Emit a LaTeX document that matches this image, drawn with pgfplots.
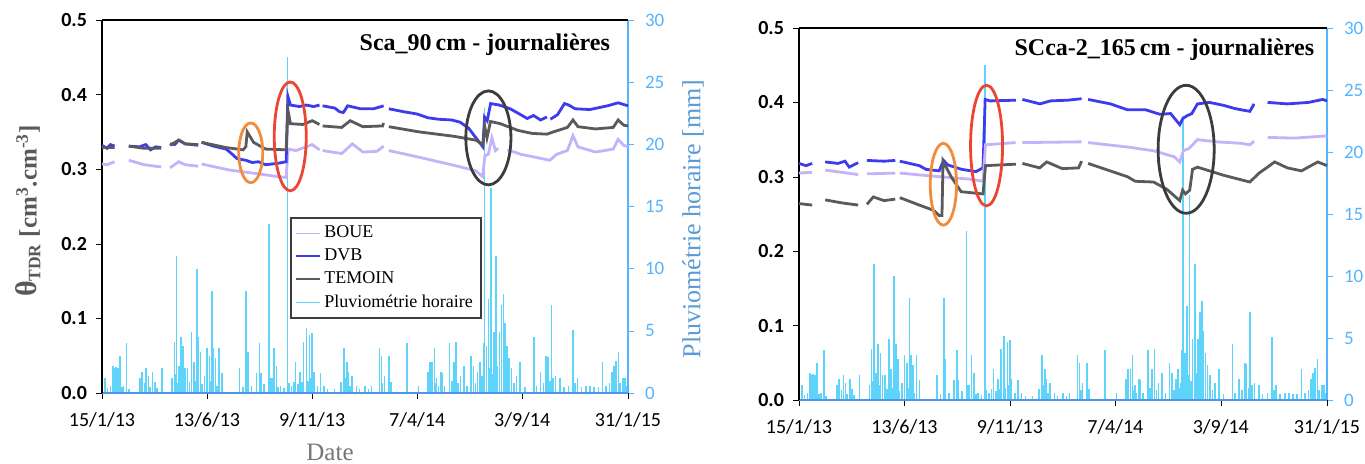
\documentclass[border=0pt]{standalone}
\usepackage{fontspec}
\setmainfont{Carlito}
\newfontfamily\tnr{Liberation Serif}
\usepackage{pgfplots}
\usepackage{pgfplotstable}
\pgfplotsset{compat=1.18}
\definecolor{boue}{RGB}{196,178,250}
\definecolor{dvb}{RGB}{60,60,238}
\definecolor{temoin}{RGB}{90,90,90}
\definecolor{rain}{RGB}{95,212,250}
\definecolor{raxis}{RGB}{85,180,255}
\definecolor{baxis}{RGB}{80,150,230}
\definecolor{pluvlab}{RGB}{91,155,213}
\definecolor{thlab}{RGB}{89,89,89}
\definecolor{datelab}{RGB}{118,118,118}
\definecolor{ellO}{RGB}{240,140,60}
\definecolor{ellR}{RGB}{235,70,50}
\definecolor{ellK}{RGB}{60,60,60}

\pgfplotstableread{
d r
4.3 1.2
8 0.4
12 0.6
15.4 2.2
17.8 2.0
19.7 2.1
21 0.8
22.7 2.0
25.8 3.0
28 0.5
30.7 0.6
35.0 4.0
38 0.3
53.5 1.2
55 0.5
56.5 1.7
60 0.8
62.7 2.0
65.8 1.4
68 0.5
71.9 1.7
75.0 0.9
78 0.4
85.4 2.0
99.5 1.2
102.6 4.1
104 1.5
105.7 11.0
107 0.8
108.8 2.2
111.8 4.5
113 1.2
114.9 3.8
118.0 2.0
121.1 2.0
124 0.9
127.2 4.9
130.3 2.5
132 1.0
134.6 10.0
137.0 4.5
139.5 3.3
142 0.7
145.6 1.4
149.3 3.6
152.4 3.0
154 1.0
156.1 8.2
157.9 3.6
161.0 2.8
163 0.6
165.9 3.6
170.2 1.6
194.8 2.0
200 0.5
204.6 8.2
207.1 3.3
212 0.6
219.4 1.6
223.1 4.0
225.5 1.6
230 0.7
236.6 13.6
239.0 1.2
240.9 1.2
243.9 3.6
247.6 2.2
250 0.5
253.2 0.6
258 0.4
263.0 27.0
265 0.8
268.5 0.6
272 0.9
274.7 2.5
278 0.7
280.8 1.7
284 0.9
285.7 4.1
290.0 5.2
292 1.0
294.3 4.7
296 1.2
298.0 4.8
300.5 1.7
305.4 0.6
309.7 1.6
314.6 0.6
320 0.3
330 0.3
339.2 0.9
343.5 3.6
345 1.2
347.2 2.5
349.7 1.7
352 0.6
354.6 1.4
360.7 0.6
365 0.3
373.0 0.6
378 0.3
382.2 0.6
393.3 3.6
396.4 3.0
398 0.8
400.7 1.4
406.8 3.0
409.9 0.9
432.6 4.0
448.6 0.6
462.1 1.7
465.2 2.5
468.3 2.5
471.3 3.6
473 0.8
474.4 1.2
477 0.6
480.5 1.7
482.4 1.6
486 0.6
492.9 4.0
496 1.0
499.0 2.5
502.0 4.1
505 0.8
508.2 1.4
513.1 2.2
518 0.6
523.6 3.0
526.6 2.2
530 0.8
532.8 1.7
535.8 2.5
537 1.0
538.9 1.4
540.8 4.0
542.6 22.9
545.1 3.8
548.1 7.6
550 2.0
551.8 16.5
554 1.5
556.1 4.9
559.2 11.0
561 2.2
563.5 4.9
566.6 7.1
569.6 8.0
571.5 5.6
574.6 3.8
577.0 2.8
580.7 2.0
584 0.8
588.1 1.4
593.0 2.5
600 0.5
612.7 4.5
616 0.6
621.9 1.7
626 0.8
629.9 3.0
632.3 2.9
635 1.0
637.3 7.1
640 1.2
643.4 1.4
649.5 1.2
655 0.5
661.8 0.6
668.0 5.1
671 0.8
674.1 1.2
680 0.5
686.4 0.6
692.5 0.6
698 0.5
704 0.5
709.7 2.5
715 0.6
720 0.8
723.3 1.7
726.3 2.2
729.4 2.6
732.5 3.3
735 0.8
738.6 1.2
741.7 1.2
744 0.6
}\rain

\pgfplotsset{
  rainax/.style={
    scale only axis, xmin=0, xmax=746, ymin=0, ymax=30,
    axis x line=none, axis y line*=right,
    y axis line style={raxis, line width=0.8pt},
    ytick={0,5,10,15,20,25,30},
    yticklabel style={text=raxis, font=\fontsize{9.5}{11}\selectfont, xshift=2pt},
    ytick style={raxis}, tick align=outside, major tick length=3pt,
    /pgf/number format/assume math mode=true,
  },
  thax/.style={
    scale only axis, xmin=0, xmax=746, ymin=0, ymax=0.5,
    axis x line*=bottom, axis y line*=left,
    x axis line style={baxis, line width=0.8pt, -},
    y axis line style={black, line width=0.8pt, -},
    xtick={0,149,298,447,596,746},
    xticklabels={15/1/13,13/6/13,9/11/13,7/4/14,3/9/14,31/1/15},
    xticklabel style={font=\fontsize{10}{12}\selectfont, yshift=-3.5pt},
    ytick={0,0.1,0.2,0.3,0.4,0.5},
    yticklabel style={font=\bfseries\fontsize{10}{12}\selectfont, xshift=-1pt,
      /pgf/number format/.cd, fixed, fixed zerofill, precision=1, assume math mode=true},
    tick style={black}, tick align=outside, major tick length=3pt,
    unbounded coords=jump,
    clip=false,
  },
  rainplot/.style={ycomb, draw=rain, line width=0.8pt, no marks},
}

\begin{document}
\begin{tikzpicture}
\path[use as bounding box] (0,0) rectangle (682.5pt,231.5pt);

% ===== LEFT PANEL =====
\begin{axis}[rainax, at={(51pt,35pt)}, anchor=south west, width=263pt, height=186.5pt]
\addplot[rainplot] table[x=d,y=r] {\rain};
\end{axis}

\begin{axis}[thax, at={(51pt,35pt)}, anchor=south west, width=263pt, height=186.5pt,
  legend style={at={(rel axis cs:0.357,0.472)}, anchor=north west,
    draw=ellK, line width=1pt, fill=white, inner sep=2pt, row sep=0pt,
    font=\tnr\fontsize{9}{10}\selectfont},
  legend cell align=left,
  legend image code/.code={\draw[line width=0.8pt,#1] (0pt,0pt) -- (12pt,0pt);},
]
\addplot[color=boue, line width=1.4pt, no marks] coordinates {
(0,0.307)(7,0.306)(17.8,0.310)(20,nan)
(38,0.312)(60,0.306)(84,0.303)(86,nan)
(96.5,0.302)(108.8,0.310)(118,0.306)(136.4,0.304)(138,nan)
(141.3,0.307)(180,0.299)(220,0.294)(250,0.290)(261.2,0.289)(264,0.327)(275,0.325)(298,0.333)(308.5,0.326)(310,nan)
(312.8,0.325)(340,0.321)(355,0.334)(370,0.323)(390,0.324)(399.4,0.331)(402,nan)
(406.8,0.325)(450,0.316)(500,0.305)(530,0.298)(540,0.290)(543,0.318)(548,0.320)(553,0.342)(558,0.325)(562,0.328)(564,nan)
(575,0.326)(594,0.320)(620,0.315)(635,0.312)(645,0.320)(660,0.325)(668,0.345)(675,0.330)(700,0.323)(725,0.327)(732,0.340)(740,0.332)(746,0.330)
};
\addplot[color=dvb, line width=1.4pt, no marks] coordinates {
(0,0.332)(7,0.328)(12,0.333)(17.8,0.331)(20,nan)
(38,0.331)(53,0.330)(62,0.333)(69,0.326)(76,0.330)(84,0.329)(86,nan)
(96.5,0.334)(103,0.333)(108.8,0.339)(118,0.334)(128,0.333)(136.4,0.332)(138,nan)
(141.3,0.336)(158,0.331)(176,0.327)(182.5,0.322)(191.7,0.314)(204,0.312)(213,0.309)(222,0.310)(232,0.306)(250,0.308)(261.2,0.310)(263.6,0.398)(267.3,0.386)(280,0.384)(290,0.386)(300,0.384)(308.5,0.386)(310,nan)
(312.8,0.385)(330,0.382)(337,0.377)(342.3,0.376)(348.4,0.385)(366.9,0.381)(385.3,0.381)(399.4,0.385)(402,nan)
(406.8,0.381)(428,0.377)(447,0.374)(462,0.369)(477,0.367)(496,0.366)(508,0.363)(520,0.355)(532,0.340)(540.2,0.330)(542.6,0.370)(546.3,0.365)(551.2,0.388)(563.5,0.386)(579,0.381)(594,0.373)(603,0.368)(612,0.372)(622,0.366)(631,0.370)(633,nan)
(636,0.367)(646,0.373)(656,0.388)(662,0.386)(671,0.381)(692,0.380)(717,0.385)(732,0.389)(746,0.385)
};
\addplot[color=temoin, line width=1.4pt, no marks] coordinates {
(0,0.329)(17.8,0.329)(20,nan)
(38,0.331)(60,0.328)(84,0.328)(86,nan)
(96.5,0.332)(108.8,0.339)(118,0.334)(136.4,0.333)(138,nan)
(141.3,0.336)(176,0.329)(200,0.326)(204,0.330)(206,0.350)(215,0.336)(232,0.327)(261.2,0.326)(263.6,0.380)(267.3,0.361)(285,0.360)(298,0.365)(308.5,0.360)(310,nan)
(312.8,0.358)(340,0.356)(352,0.365)(370,0.357)(398,0.358)(399.4,0.362)(402,nan)
(406.8,0.357)(450,0.350)(500,0.344)(530,0.339)(540.2,0.333)(542.6,0.358)(546,0.342)(551,0.364)(565,0.361)(590,0.352)(610,0.348)(631,0.347)(640,0.350)(660,0.356)(668,0.366)(675,0.357)(700,0.354)(725,0.356)(732,0.366)(740,0.359)(746,0.358)
};
\addlegendimage{color=rain, line width=0.8pt}
\legend{BOUE,DVB,TEMOIN,Pluviométrie horaire}
\draw[black, line width=0.8pt] (rel axis cs:0,1) -- (rel axis cs:1,1);
\draw[ellO, line width=1.4pt] (axis cs:211,0.322) ellipse [x radius=17, y radius=0.040];
\draw[ellR, line width=1.4pt] (axis cs:267,0.344) ellipse [x radius=22.7, y radius=0.073];
\draw[ellK, line width=1.4pt] (axis cs:548,0.342) ellipse [x radius=32, y radius=0.063];
\node[anchor=east, font=\tnr\bfseries\fontsize{12}{14}\selectfont] at (rel axis cs:0.979,0.933) {Sca\_90\,cm - journalières};
\end{axis}

% ===== RIGHT PANEL =====
\begin{axis}[rainax, at={(399.5pt,31.5pt)}, anchor=south west, width=264pt, height=186pt]
\addplot[rainplot] table[x=d,y=r] {\rain};
\end{axis}

\begin{axis}[thax, at={(399.5pt,31.5pt)}, anchor=south west, width=264pt, height=186pt]
\addplot[color=dvb, line width=1.4pt, no marks] coordinates {
(0,0.318)(10,0.315)(18.6,0.318)(21,nan)
(37,0.320)(55,0.318)(65,0.321)(71,0.313)(83.6,0.319)(86,nan)
(96,0.322)(120,0.321)(136,0.322)(139,nan)
(142.4,0.321)(170,0.315)(179.5,0.310)(198,0.308)(204.3,0.322)(210,0.316)(230,0.310)(250,0.307)(260,0.312)(263,0.404)(270,0.402)(306.4,0.403)(309,nan)
(315.7,0.404)(340.5,0.398)(355,0.402)(380,0.403)(399.3,0.405)(403,nan)
(408.5,0.404)(440,0.398)(464.3,0.390)(490,0.390)(510,0.384)(525,0.385)(538,0.370)(542,0.378)(548,0.382)(555,0.385)(563,0.398)(580,0.400)(600,0.396)(615,0.392)(625,0.390)(637,0.388)(643,0.398)(646,nan)
(662,0.400)(690,0.398)(720,0.400)(740,0.404)(746,0.402)
};
\addplot[color=boue, line width=1.4pt, no marks] coordinates {
(0,0.305)(18.6,0.306)(21,nan)
(37,0.309)(83.6,0.303)(86,nan)
(96,0.304)(136,0.305)(139,nan)
(142.4,0.305)(200,0.300)(240,0.297)(260,0.294)(263.5,0.343)(306,0.346)(309,nan)
(315.7,0.346)(399.3,0.347)(403,nan)
(408.5,0.346)(464.3,0.340)(501,0.335)(530,0.327)(538,0.320)(543,0.335)(551,0.338)(563,0.350)(590,0.347)(625,0.345)(637,0.343)(643,0.348)(646,nan)
(662,0.353)(700,0.352)(746,0.355)
};
\addplot[color=temoin, line width=1.4pt, no marks] coordinates {
(0,0.264)(18.6,0.262)(21,nan)
(37,0.269)(60,0.265)(83.6,0.262)(86,nan)
(96,0.263)(105,0.273)(120,0.268)(136,0.270)(139,nan)
(142.4,0.272)(170,0.262)(190,0.255)(198,0.248)(202,0.248)(203.5,0.321)(215,0.300)(229,0.280)(260,0.277)(263.5,0.315)(306.4,0.317)(309,nan)
(315.7,0.318)(340,0.312)(350,0.320)(372,0.311)(395,0.312)(399.3,0.321)(403,nan)
(408.5,0.318)(464.3,0.300)(475,0.294)(501,0.293)(520,0.283)(538,0.268)(542,0.282)(546,0.277)(552,0.282)(556,0.310)(563,0.313)(600,0.302)(637,0.293)(650,0.305)(662,0.313)(672,0.320)(690,0.312)(710,0.308)(733,0.320)(746,0.315)
};
\draw[black, line width=0.8pt] (rel axis cs:0,1) -- (rel axis cs:1,1);
\draw[ellO, line width=1.4pt] (axis cs:204,0.290) ellipse [x radius=18.6, y radius=0.055];
\draw[ellR, line width=1.4pt] (axis cs:265,0.342) ellipse [x radius=22.6, y radius=0.081];
\draw[ellK, line width=1.4pt] (axis cs:547,0.337) ellipse [x radius=39.6, y radius=0.086];
\node[anchor=east, font=\tnr\bfseries\fontsize{12}{14}\selectfont] at (rel axis cs:0.989,0.941) {SCca-2\_165\,cm - journalières};
\end{axis}

% ===== Axis labels =====
\node[rotate=90, text=thlab, font=\tnr\bfseries\fontsize{12.5}{14}\selectfont] at (14pt,126pt)
  {{\fontsize{15}{16}\selectfont θ}\textsubscript{TDR} [cm\textsuperscript{3}.cm\textsuperscript{-3}]};
\node[text=datelab, font=\tnr\fontsize{12.5}{14}\selectfont] at (165pt,5.5pt) {Date};
\node[rotate=90, text=pluvlab, font=\tnr\fontsize{13}{15}\selectfont] at (346.5pt,122pt) {Pluviométrie horaire [mm]};
\end{tikzpicture}
\end{document}
